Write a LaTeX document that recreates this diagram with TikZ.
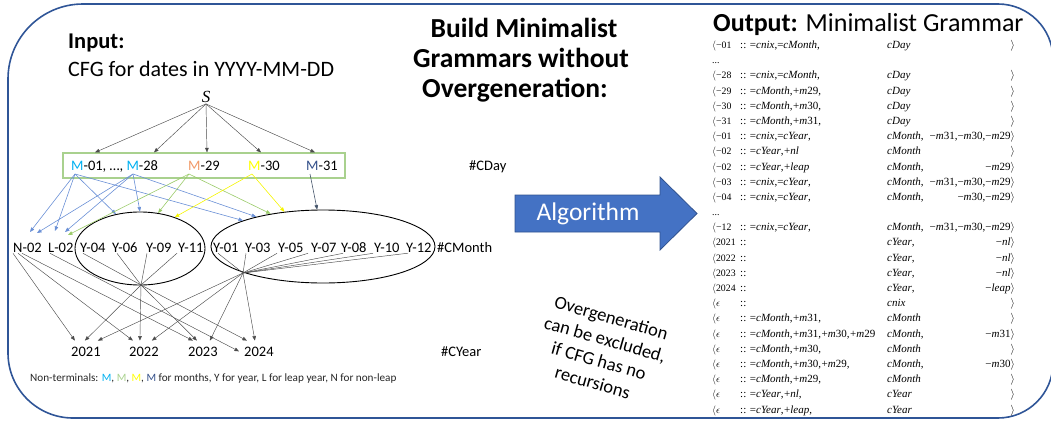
\documentclass[tikz,border=0pt]{standalone}
\usepackage{fontspec}
\setmainfont{Carlito}
\newfontfamily\serfont{Liberation Serif}
\usetikzlibrary{arrows.meta,shapes.geometric}
\definecolor{frameblue}{HTML}{2F5597}
\definecolor{mcyan}{HTML}{00B0F0}
\definecolor{morange}{HTML}{F19A68}
\definecolor{myellow}{HTML}{FFFF00}
\definecolor{mdark}{HTML}{34508A}
\definecolor{lgreen}{HTML}{A9D18E}
\definecolor{boxgreen}{HTML}{A9D18E}
\definecolor{lblue}{HTML}{6A90D6}
\definecolor{ygreen}{HTML}{9BCB6A}
\definecolor{yline}{HTML}{F5F500}
\definecolor{dline}{HTML}{44546A}
\definecolor{arrowblue}{HTML}{4472C4}
\definecolor{arrowedge}{HTML}{2F528F}
\newcommand\lb{$\langle$}
\newcommand\rb{$\rangle$}
\newcommand\ep{$\epsilon$}
\newcommand\ii[1]{\textit{#1}}
\newcommand\pl{\kern0.6pt+}
\newcommand\mgrow[5]{%
  \node[cellk] (r#1a) at (712,{48.5+(#1-1)*15.19}) {#2};
  \node[cell] (r#1b) at (740,{48.5+(#1-1)*15.19}) {#3};
  \node[cell] (r#1c) at (887,{48.5+(#1-1)*15.19}) {#4};
  \node[cellr] (r#1d) at (1015,{48.5+(#1-1)*15.19}) {#5};}
\begin{document}
\begin{tikzpicture}[x=1pt,y=-1pt,
  tip/.style={-{Triangle[length=4.5pt,width=3.6pt]}},
  grayarrow/.style={tip, draw=black!70, line width=0.45pt},
  grayline/.style={draw=black!70, line width=0.45pt},
  bluearrow/.style={tip, draw=lblue, line width=0.6pt},
  greenarrow/.style={tip, draw=ygreen, line width=0.6pt},
  yellowarrow/.style={tip, draw=yline, line width=0.6pt},
  darkarrow/.style={tip, draw=dline, line width=0.6pt},
  lbl/.style={anchor=base west, inner sep=1pt, font=\fontsize{14.5}{17}\selectfont},
  yr/.style={lbl, outer ysep=5pt},
  cell/.style={anchor=base west, inner sep=0pt, font=\serfont\fontsize{11}{13}\selectfont},
  cellk/.style={cell, font=\serfont\fontsize{9.8}{13}\selectfont},
  cellr/.style={cell, anchor=base east},
  ell/.style={draw, ellipse, line width=0.9pt, inner sep=0pt},
  ttl/.style={anchor=base, inner sep=0pt, font=\bfseries\fontsize{27.5}{30}\selectfont},
]
\useasboundingbox (0,0) rectangle (1051,423);
% frame
\draw[frameblue, line width=1.6pt] (8,200) [rounded corners=75pt] |- (530,4) [rounded corners=55pt] -| (1053,200) |- (530,418) [rounded corners=65pt] -| (8,200) -- cycle;

% ---------- left panel ----------
\node[anchor=base west, inner sep=0pt, font=\bfseries\fontsize{22.5}{27}\selectfont] (inp) at (68,48) {Input:};
\node[anchor=base west, inner sep=0pt, font=\fontsize{22}{27}\selectfont] (cfg) at (68,76) {CFG for dates in YYYY-MM-DD};
\node[inner sep=1pt, font=\serfont\itshape\fontsize{17}{17}\selectfont] (S) at (206,97) {S};

\node[draw=boxgreen, line width=1.2pt, minimum width=282, minimum height=25, inner sep=0pt] (box) at (204,165.5) {};
\foreach \s in {-109,-50,3,57,111}
  \draw[grayarrow] (S.south) -- ([xshift=\s]box.north);

\node[lbl] (m0128) at (70,170) {\textcolor{mcyan}{M}-01, …, \textcolor{mcyan}{M}-28};
\node[lbl] (m29) at (187,170) {\textcolor{morange}{M}-29};
\node[lbl] (m30) at (247,170) {\textcolor{myellow}{M}-30};
\node[lbl] (m31) at (305,170) {\textcolor{mdark}{M}-31};
\node[lbl] (cday) at (468,170) {\#CDay};

\coordinate (s01) at (75,174);
\coordinate (s28) at (133,174);
\coordinate (s29) at (189,174);
\coordinate (s30) at (252,174);
\coordinate (s31) at (310,174);

\node[ell, minimum width=130, minimum height=73] (e1) at (140,248.5) {};
\node[ell, minimum width=224, minimum height=73] (e2) at (323,246.5) {};

\node[lbl] (n02) at (12,252) {N-02};
\node[lbl] (l02) at (47,252) {L-02};
\node[lbl] (y04) at (79,252) {Y-04};
\node[lbl] (y06) at (111,252) {Y-06};
\node[lbl] (y09) at (145,252) {Y-09};
\node[lbl] (y11) at (177,252) {Y-11};
\node[lbl] (y01) at (212,252) {Y-01};
\node[lbl] (y03) at (244,252) {Y-03};
\node[lbl] (y05) at (277,252) {Y-05};
\node[lbl] (y07) at (310,252) {Y-07};
\node[lbl] (y08) at (340,252) {Y-08};
\node[lbl] (y10) at (373,252) {Y-10};
\node[lbl] (y12) at (405,252) {Y-12};
\node[lbl] (cmonth) at (436,252) {\#CMonth};

\coordinate (tN1) at (30,232);
\coordinate (tN2) at (37,233);
\coordinate (tL1) at (55,231);
\coordinate (tL2) at (65,232);
\coordinate (tL3) at (68,235);

\draw[bluearrow] (s01) -- (tN1);
\draw[bluearrow] (s01) -- (tL1);
\draw[bluearrow] (s01) -- (e1.125);
\draw[bluearrow] (s01) -- (e2.162);
\draw[bluearrow] (s28) -- (tN2);
\draw[bluearrow] (s28) -- (tL2);
\draw[bluearrow] (s28) -- (e1.90);
\draw[bluearrow] (s28) -- (e2.156);
\draw[greenarrow] (s29) -- (tL3);
\draw[greenarrow] (s29) -- (e1.63);
\draw[greenarrow] (s29) -- (e2.148);
\draw[yellowarrow] (s30) -- (e1.42);
\draw[yellowarrow] (s30) -- (e2.138);
\draw[darkarrow] (s31) -- (e2.99);

\coordinate (h1) at (141,285);
\coordinate (h2) at (243,273);
\foreach \n/\s in {y04/4,y06/6,y09/2,y11/0}
  \draw[grayline] ([xshift=\s]\n.south west) -- (h1);
\foreach \n/\s in {y01/6,y03/2,y05/0,y07/-2,y08/3,y10/0,y12/3}
  \draw[grayline] ([xshift=\s]\n.south west) -- (h2);

\node[yr] (y2021) at (70,356) {2021};
\node[yr] (y2022) at (128,356) {2022};
\node[yr] (y2023) at (187,356) {2023};
\node[yr] (y2024) at (243,356) {2024};
\node[lbl] (cyear) at (440,356) {\#CYear};

\draw[grayarrow] ([xshift=1]n02.south west) -- ([xshift=-11]y2021.north);
\draw[grayarrow] ([xshift=6]n02.south west) -- ([xshift=-11]y2022.north);
\draw[grayarrow] ([xshift=10]n02.south west) -- ([xshift=-10]y2023.north);
\draw[grayarrow] ([xshift=3]l02.south west) -- ([xshift=-4]y2024.west);
\draw[grayarrow] (h1) -- ([xshift=-1]y2021.north);
\draw[grayarrow] (h1) -- ([xshift=-4]y2022.north);
\draw[grayarrow] (h1) -- ([xshift=-6]y2023.north);
\draw[grayarrow] (h1) -- ([xshift=-12]y2024.north);
\draw[grayarrow] (h2) -- ([xshift=12]y2021.north);
\draw[grayarrow] (h2) -- ([xshift=8]y2022.north);
\draw[grayarrow] (h2) -- ([xshift=7]y2023.north);
\draw[grayarrow] (h2) -- ([xshift=-4]y2024.north);

\node[anchor=base west, inner sep=0pt, font=\fontsize{11.2}{13}\selectfont, text=black!85] (note) at (30,381)
  {Non-terminals: \textcolor{mcyan}{M}, \textcolor{lgreen}{M}, \textcolor{myellow}{M}, \textcolor{mdark}{M} for months, Y for year, L for leap year, N for non-leap};

% ---------- middle ----------
\node[ttl] (t1) at (524,37) {Build Minimalist};
\node[ttl] (t2) at (521,67.5) {Grammars without};
\node[ttl] (t3) at (515,97.5) {Overgeneration:};

\draw[draw=arrowedge, fill=arrowblue, line width=0.8pt] (515,195) -- (660,195) -- (660,177) -- (697,213.5) -- (660,250) -- (660,232) -- (515,232) -- cycle;
\node[text=white, inner sep=0pt, font=\fontsize{25.5}{30}\selectfont] (alg) at (588,213.5) {Algorithm};

\node[rotate=-16, align=center, inner sep=0pt, font=\fontsize{18.5}{22.5}\selectfont] (og) at (602,350)
  {Overgeneration\\can be excluded,\\if CFG has no\\recursions};

% ---------- right panel ----------
\node[anchor=base west, inner sep=0pt, font=\fontsize{26}{30}\selectfont] (out) at (713,31) {\textbf{Output:} Minimalist Grammar};

\mgrow{1}{\lb−01}{:: =\ii{cnix},=\ii{cMonth},}{\ii{cDay}}{\rb}
\node[cellk] (r2a) at (712,{48.5+15.19}) {...};
\mgrow{3}{\lb−28}{:: =\ii{cnix},=\ii{cMonth},}{\ii{cDay}}{\rb}
\mgrow{4}{\lb−29}{:: =\ii{cMonth},\pl\ii{m}29,}{\ii{cDay}}{\rb}
\mgrow{5}{\lb−30}{:: =\ii{cMonth},\pl\ii{m}30,}{\ii{cDay}}{\rb}
\mgrow{6}{\lb−31}{:: =\ii{cMonth},\pl\ii{m}31,}{\ii{cDay}}{\rb}
\mgrow{7}{\lb−01}{:: =\ii{cnix},=\ii{cYear},}{\ii{cMonth},}{−\ii{m}31,−\ii{m}30,−\ii{m}29\rb}
\mgrow{8}{\lb−02}{:: =\ii{cYear},\pl\ii{nl}}{\ii{cMonth}}{\rb}
\mgrow{9}{\lb−02}{:: =\ii{cYear},\pl\ii{leap}}{\ii{cMonth},}{−\ii{m}29\rb}
\mgrow{10}{\lb−03}{:: =\ii{cnix},=\ii{cYear},}{\ii{cMonth},}{−\ii{m}31,−\ii{m}30,−\ii{m}29\rb}
\mgrow{11}{\lb−04}{:: =\ii{cnix},=\ii{cYear},}{\ii{cMonth},}{−\ii{m}30,−\ii{m}29\rb}
\node[cellk] (r12a) at (712,{48.5+11*15.19}) {...};
\mgrow{13}{\lb−12}{:: =\ii{cnix},=\ii{cYear},}{\ii{cMonth},}{−\ii{m}31,−\ii{m}30,−\ii{m}29\rb}
\mgrow{14}{\lb2021}{::}{\ii{cYear},}{−\ii{nl}\rb}
\mgrow{15}{\lb2022}{::}{\ii{cYear},}{−\ii{nl}\rb}
\mgrow{16}{\lb2023}{::}{\ii{cYear},}{−\ii{nl}\rb}
\mgrow{17}{\lb2024}{::}{\ii{cYear},}{−\ii{leap}\rb}
\mgrow{18}{\lb\ep}{::}{\ii{cnix}}{\rb}
\mgrow{19}{\lb\ep}{:: =\ii{cMonth},\pl\ii{m}31,}{\ii{cMonth}}{\rb}
\mgrow{20}{\lb\ep}{:: =\ii{cMonth},\pl\ii{m}31,\pl\ii{m}30,\pl\ii{m}29}{\ii{cMonth},}{−\ii{m}31\rb}
\mgrow{21}{\lb\ep}{:: =\ii{cMonth},\pl\ii{m}30,}{\ii{cMonth}}{\rb}
\mgrow{22}{\lb\ep}{:: =\ii{cMonth},\pl\ii{m}30,\pl\ii{m}29,}{\ii{cMonth},}{−\ii{m}30\rb}
\mgrow{23}{\lb\ep}{:: =\ii{cMonth},\pl\ii{m}29,}{\ii{cMonth}}{\rb}
\mgrow{24}{\lb\ep}{:: =\ii{cYear},\pl\ii{nl},}{\ii{cYear}}{\rb}
\mgrow{25}{\lb\ep}{:: =\ii{cYear},\pl\ii{leap},}{\ii{cYear}}{\rb}
\end{tikzpicture}
\end{document}
